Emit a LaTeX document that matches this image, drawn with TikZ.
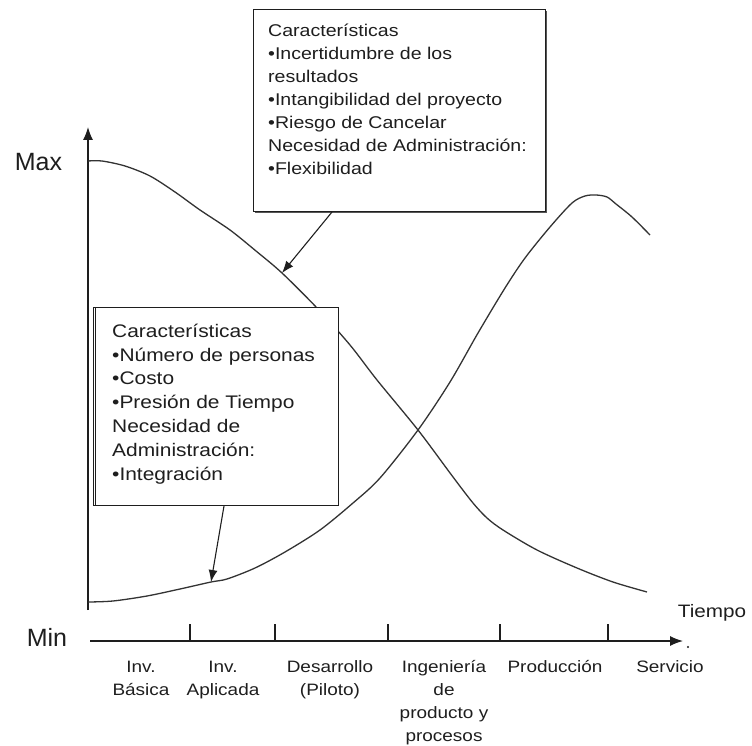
\documentclass[tikz,border=0pt]{standalone}
\usepackage{fontspec}
\setmainfont{Liberation Sans}
\newfontfamily\widefont[FakeStretch=1.15]{Liberation Sans}
\usetikzlibrary{arrows.meta}
\definecolor{ink}{HTML}{1E1E1E}
\definecolor{curve}{HTML}{333333}
\tikzset{
  axis/.style={draw=ink, line width=1.3pt},
  tick/.style={draw=ink, line width=1.1pt},
  curveline/.style={draw=curve, line width=1.3pt, line join=round},
  infobox/.style={draw=ink, fill=white, line width=1pt, inner sep=0pt},
  boxshadow/.style={fill=ink!75, inner sep=0pt},
  pointer/.style={draw=ink, line width=1.1pt, -{Latex[length=12pt,width=9pt]}},
  boxtext/.style={inner sep=0pt, align=left, text=ink},
  steplabel/.style={inner sep=0pt, align=center, text=ink,
    font=\fontsize{16.5}{23.3}\selectfont\widefont},
  levellabel/.style={inner sep=0pt, text=ink, font=\fontsize{25}{30}\selectfont}
}
\begin{document}
\begin{tikzpicture}[x=1pt, y=-1pt]
\useasboundingbox (0,0) rectangle (752,746);

% axes
\coordinate (yaxisfoot) at (88,610);
\coordinate (yaxistop) at (88,127);
\coordinate (xaxisstart) at (90,641);
\coordinate (xaxisend) at (683,641);
\draw[axis, -{Latex[length=13pt,width=10pt]}] (yaxisfoot) -- (yaxistop);
\draw[axis, -{Latex[length=13pt,width=10pt]}] (xaxisstart) -- (xaxisend);
\fill[ink] (688,647) circle (1.1pt);

% phase ticks on the time axis
\foreach \tx in {190,275,388,500,608}
  \draw[tick] (\tx,624) -- (\tx,641);

% level and time labels
\node[levellabel, anchor=base] (maxlabel) at (38.5,171) {Max};
\node[levellabel, anchor=base] (minlabel) at (47,646) {Min};
\node[inner sep=0pt, text=ink, anchor=base, font=\fontsize{18}{22}\selectfont\widefont] (tiempo) at (712,617) {Tiempo};

% phase labels (base anchor sits on the last line)
\node[steplabel, anchor=base] (invbas) at (141,695.3) {Inv.\\Básica};
\node[steplabel, anchor=base] (invapl) at (223,695.3) {Inv.\\Aplicada};
\node[steplabel, anchor=base] (desarrollo) at (330,695.3) {Desarrollo\\(Piloto)};
\node[steplabel, anchor=base] (ingenieria) at (444,741.9) {Ingeniería\\de\\producto y\\procesos};
\node[steplabel, anchor=base] (produccion) at (555,672) {Producción};
\node[steplabel, anchor=base] (servicio) at (670,672) {Servicio};

% points on the curves that the call-outs point at
\coordinate (fallpt) at (282,273);
\coordinate (risept) at (211,582);

% falling curve (uncertainty, flexibility)
\draw[curveline] plot[smooth, tension=0.5] coordinates {
  (88,161) (102,161) (125,166) (150,176) (175,192) (200,210) (230,230)
  (256,251) (fallpt) (317,308) (350,345) (377,380) (418,430) (453,477)
  (473,503) (487,518) (503,530) (537,550) (577,568) (613,582) (647,592)};

% rising curve (people, cost, integration)
\draw[curveline] plot[smooth, tension=0.5] coordinates {
  (88,602) (113,601) (147,596) (180,589) (risept) (227,579) (255,568)
  (285,552) (320,530) (353,503) (380,478) (418,430) (450,382) (478,333)
  (505,288) (525,258) (550,227) (572,203) (585,196) (596,195) (607,197)
  (616,204) (632,217) (650,235)};

% upper call-out box
\node[boxshadow, minimum width=292pt, minimum height=202pt, anchor=north west] (topshadow) at (254.5,10.5) {};
\node[infobox, minimum width=292pt, minimum height=202pt, anchor=north west] (topbox) at (253,9) {};
\node[boxtext, anchor=base west, font=\fontsize{17}{23}\selectfont\widefont] (toptext) at (268,175)
  {Características\\•Incertidumbre de los\\resultados\\•Intangibilidad del proyecto\\•Riesgo de Cancelar\\Necesidad de Administración:\\•Flexibilidad};
\draw[pointer] ([xshift=79pt]topbox.south west) -- (fallpt);

% lower call-out box
\node[infobox, minimum width=245pt, minimum height=198pt, anchor=north west] (leftbox) at (93,307) {};
\draw[draw=ink, line width=0.9pt] ([xshift=2.5pt]leftbox.north west) -- ([xshift=2.5pt]leftbox.south west);
\node[boxtext, anchor=base west, font=\fontsize{18.2}{23.8}\selectfont\widefont] (lefttext) at (112,480)
  {Características\\•Número de personas\\•Costo\\•Presión de Tiempo\\Necesidad de\\Administración:\\•Integración};
\draw[pointer] ([xshift=131pt]leftbox.south west) -- (risept);
\end{tikzpicture}
\end{document}
